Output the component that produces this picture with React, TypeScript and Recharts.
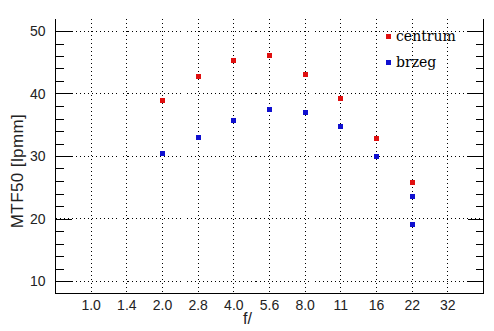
import React from "react";
import {
  ScatterChart,
  Scatter,
  XAxis,
  YAxis,
  CartesianGrid,
  Legend,
} from "recharts";

// f-stops on the x axis (evenly spaced, one slot each)
const apertures = ["1.0", "1.4", "2.0", "2.8", "4.0", "5.6", "8.0", "11", "16", "22", "32"];

const centrumApertures = ["2.0", "2.8", "4.0", "5.6", "8.0", "11", "16", "22"];
const centrumValues = [38.9, 42.7, 45.3, 46.1, 43.0, 39.2, 32.8, 25.7];

const brzegApertures = ["2.0", "2.8", "4.0", "5.6", "8.0", "11", "16", "22", "22"];
const brzegValues = [30.4, 33.0, 35.7, 37.5, 37.0, 34.7, 30.0, 23.6, 19.0];

const yTicks = [10, 12, 14, 16, 18, 20, 22, 24, 26, 28, 30, 32, 34, 36, 38, 40, 42, 44, 46, 48, 50];
const yMajor = [10, 20, 30, 40, 50];

const toPoints = (labels: string[], values: number[]) =>
  labels.map((a, i) => ({ x: apertures.indexOf(a) + 1, y: values[i] }));

const centrumData = toPoints(centrumApertures, centrumValues);
const brzegData = toPoints(brzegApertures, brzegValues);
const xTicks = apertures.map((_, i) => i + 1);

const SERIES = [
  { name: "centrum", color: "#e01010", data: centrumData },
  { name: "brzeg", color: "#1010d0", data: brzegData },
];

const LABEL_FONT = "'Liberation Sans Narrow', 'Liberation Sans', Arial, sans-serif";
const AXIS_LINE = { stroke: "#000", strokeWidth: 1, shapeRendering: "crispEdges" };

const square = (color: string) => (props: any) => {
  const { cx, cy } = props;
  return (
    <rect x={Math.round(cx - 2.5)} y={Math.round(cy - 2.5)} width={5} height={5} fill={color} shapeRendering="crispEdges" />
  );
};

const LeftTick = (props: any) => {
  const { x, y, payload } = props;
  const major = payload.value % 10 === 0;
  const py = Math.round(y) + 0.5;
  return (
    <g>
      <path d={`M${x},${py}H${x + (major ? 16 : 8)}`} stroke="#000" strokeWidth={1} fill="none" shapeRendering="crispEdges" />
      {major && (
        <text x={x - 10} y={y} dy={5} textAnchor="end" fontSize={14} fontFamily={LABEL_FONT} fill="#222">
          {payload.value}
        </text>
      )}
    </g>
  );
};

const RightTick = (props: any) => {
  const { x, y, payload } = props;
  const major = payload.value % 10 === 0;
  const py = Math.round(y) + 0.5;
  return (
    <path d={`M${x},${py}H${x - (major ? 16 : 8)}`} stroke="#000" strokeWidth={1} fill="none" shapeRendering="crispEdges" />
  );
};

const BottomTick = (props: any) => {
  const { x, y, payload } = props;
  return (
    <text x={x} y={y} dy={16} textAnchor="middle" fontSize={14} fontFamily={LABEL_FONT} fill="#222">
      {apertures[payload.value - 1]}
    </text>
  );
};

const YLabel = (props: any) => {
  const { viewBox } = props;
  const cx = viewBox.x + 17;
  const cy = viewBox.y + viewBox.height / 2 + 15;
  return (
    <text
      x={cx}
      y={cy}
      transform={`rotate(-90 ${cx} ${cy})`}
      textAnchor="middle"
      dominantBaseline="central"
      fontSize={17}
      letterSpacing={0.4}
      fontFamily="'Liberation Sans', Arial, sans-serif"
      fill="#222"
    >
      MTF50 [lpmm]
    </text>
  );
};

const XLabel = (props: any) => {
  const { viewBox } = props;
  const cx = viewBox.x + viewBox.width / 2 - 22;
  return (
    <text
      x={cx}
      y={viewBox.y + 30}
      textAnchor="middle"
      fontSize={16}
      fontFamily="'Liberation Sans', Arial, sans-serif"
      fill="#222"
    >
      f/
    </text>
  );
};

const LegendBox = () => (
  <div style={{ fontFamily: "'DejaVu Serif', serif", fontSize: 14, color: "#000" }}>
    {SERIES.map((s) => (
      <div key={s.name} style={{ display: "flex", alignItems: "center", height: 26 }}>
        <span style={{ width: 5, height: 5, background: s.color, marginRight: 5, display: "inline-block" }} />
        <span>{s.name}</span>
      </div>
    ))}
  </div>
);

export default function App() {
  return (
    <div style={{ position: "absolute", left: 0, top: 0, width: 494, height: 331, background: "#fff" }}>
      <ScatterChart width={494} height={331} margin={{ top: 18.5, right: 0, bottom: 0, left: 0 }}>
        <CartesianGrid
          stroke="#000"
          strokeDasharray="1 3"
          shapeRendering="crispEdges"
          horizontalValues={yMajor}
          verticalValues={xTicks}
        />
        <XAxis
          dataKey="x"
          type="number"
          domain={[0, 12]}
          ticks={xTicks}
          interval={0}
          height={37.5}
          stroke="#000"
          tickLine={false}
          tickSize={0}
          tickMargin={0}
          axisLine={AXIS_LINE}
          tick={<BottomTick />}
          label={<XLabel />}
        />
        <XAxis
          xAxisId="top"
          dataKey="x"
          orientation="top"
          type="number"
          domain={[0, 12]}
          height={0}
          stroke="#000"
          tick={false}
          tickLine={false}
          axisLine={AXIS_LINE}
        />
        <YAxis
          dataKey="y"
          type="number"
          domain={[8, 52]}
          ticks={yTicks}
          interval={0}
          width={55.5}
          stroke="#000"
          tickLine={false}
          tickSize={0}
          tickMargin={0}
          axisLine={AXIS_LINE}
          tick={<LeftTick />}
          label={<YLabel />}
        />
        <YAxis
          yAxisId="right"
          dataKey="y"
          orientation="right"
          type="number"
          domain={[8, 52]}
          ticks={yTicks}
          interval={0}
          width={10.5}
          stroke="#000"
          tickLine={false}
          tickSize={0}
          tickMargin={0}
          axisLine={AXIS_LINE}
          tick={<RightTick />}
        />
        <Legend
          layout="horizontal"
          verticalAlign="middle"
          align="center"
          wrapperStyle={{ left: 386, top: 23, width: "auto" }}
          content={<LegendBox />}
        />
        {SERIES.map((s) => (
          <Scatter
            key={s.name}
            name={s.name}
            data={s.data}
            fill={s.color}
            shape={square(s.color)}
            isAnimationActive={false}
          />
        ))}
        {/* invisible copy so the frame's top/right axes get a data domain */}
        <Scatter
          name="frame"
          xAxisId="top"
          yAxisId="right"
          data={centrumData}
          legendType="none"
          shape={() => <g />}
          isAnimationActive={false}
        />
      </ScatterChart>
    </div>
  );
}
